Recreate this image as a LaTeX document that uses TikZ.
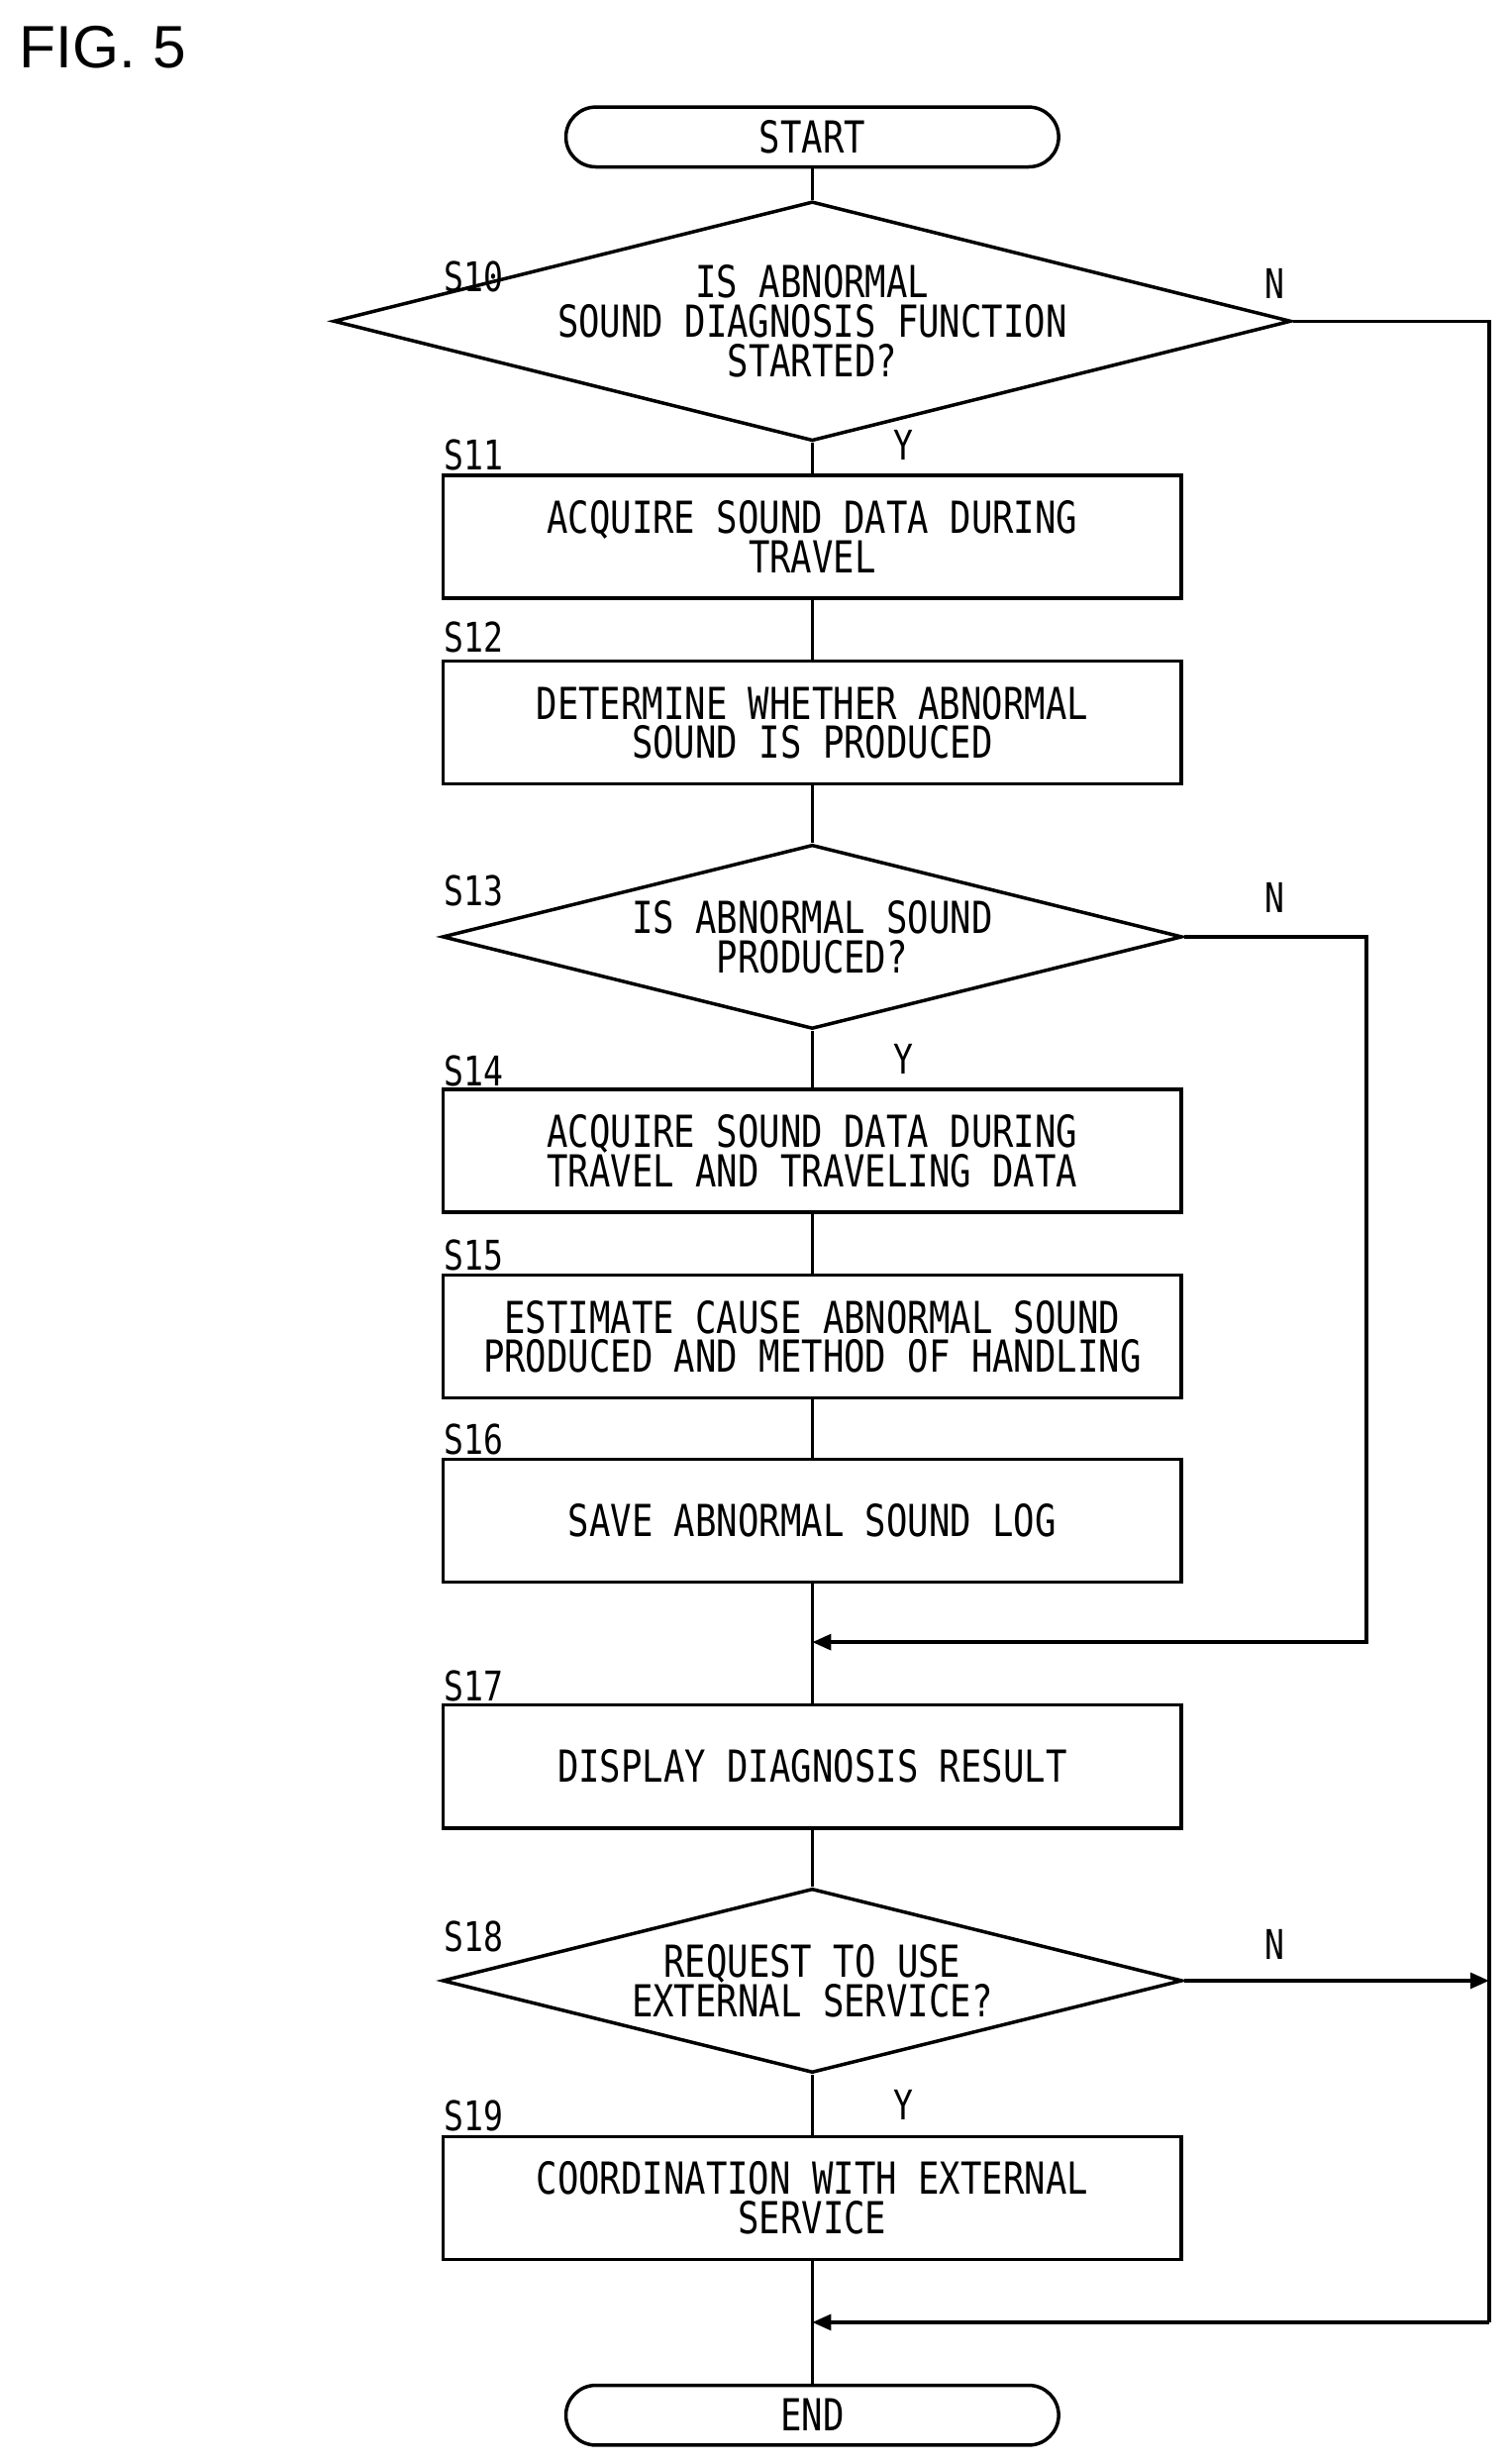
\documentclass[tikz,border=0pt]{standalone}
\usepackage{fontspec}
\setmainfont{Liberation Sans}
\newfontfamily\flow[FakeStretch=0.8]{DejaVu Sans Mono}
\usetikzlibrary{shapes.geometric,arrows.meta}
\begin{document}
\begin{tikzpicture}[x=1pt,y=-1pt,line width=2.2pt,
  txt/.style={font=\flow\fontsize{28}{25}\selectfont,align=center,inner sep=0pt},
  box/.style={draw,minimum width=469pt,minimum height=78pt,txt},
  term/.style={draw,rounded corners=19pt,minimum width=313pt,minimum height=38pt,txt},
  dia/.style={draw,diamond,aspect=4,minimum width=470pt,minimum height=117pt,txt,inner sep=0pt},
  lab/.style={font=\flow\fontsize{26}{26}\selectfont,inner sep=0pt},
  arr/.style={-{Triangle[length=12pt,width=10pt]}}]
\useasboundingbox (0,0) rectangle (960,1565);
\node[font=\fontsize{38}{38}\selectfont,anchor=west] (fig) at (8,30) {FIG. 5};
\node[term] (start) at (516,87) {START};
\node[dia] (s10) at (516,204) {IS ABNORMAL\\SOUND DIAGNOSIS FUNCTION\\STARTED?};
\node[box] (s11) at (516,341) {ACQUIRE SOUND DATA DURING\\TRAVEL};
\node[box] (s12) at (516,459) {DETERMINE WHETHER ABNORMAL\\SOUND IS PRODUCED};
\node[dia] (s13) at (516,595) {IS ABNORMAL SOUND\\PRODUCED?};
\node[box] (s14) at (516,731) {ACQUIRE SOUND DATA DURING\\TRAVEL AND TRAVELING DATA};
\node[box] (s15) at (516,849) {ESTIMATE CAUSE ABNORMAL SOUND\\PRODUCED AND METHOD OF HANDLING};
\node[box] (s16) at (516,966) {SAVE ABNORMAL SOUND LOG};
\node[box] (s17) at (516,1122) {DISPLAY DIAGNOSIS RESULT};
\node[dia] (s18) at (516,1258) {REQUEST TO USE\\EXTERNAL SERVICE?};
\node[box] (s19) at (516,1396) {COORDINATION WITH EXTERNAL\\SERVICE};
\node[term] (end) at (516,1534) {END};
\foreach \n/\y in {10/176,11/289,12/405,13/566,14/680,15/797,16/914,17/1071,18/1230,19/1344}
  \node[lab,anchor=west] (l\n) at (281,\y) {S\n};
\node[lab] (n1) at (810,180) {N};
\node[lab] (n2) at (810,570) {N};
\node[lab] (n3) at (810,1235) {N};
\node[lab] (y1) at (574,283) {Y};
\node[lab] (y2) at (574,673) {Y};
\node[lab] (y3) at (574,1337) {Y};
\coordinate (j1) at (516,1043);
\coordinate (j2) at (516,1475);
\coordinate (r1) at (946,1258);
\draw (start) -- (s10);
\draw (s10) -- (s11); \draw (s11) -- (s12); \draw (s12) -- (s13);
\draw (s13) -- (s14); \draw (s14) -- (s15); \draw (s15) -- (s16);
\draw (s16) -- (s17); \draw (s17) -- (s18); \draw (s18) -- (s19);
\draw (s19) -- (end);
\draw[arr] (s13.east) -- (868,595) -- (868,1043) -- (j1);
\draw (s10.east) -- (946,204) -- (946,1475);
\draw[arr] (946,1475) -- (j2);
\draw[arr] (s18.east) -- (r1);
\end{tikzpicture}
\end{document}
